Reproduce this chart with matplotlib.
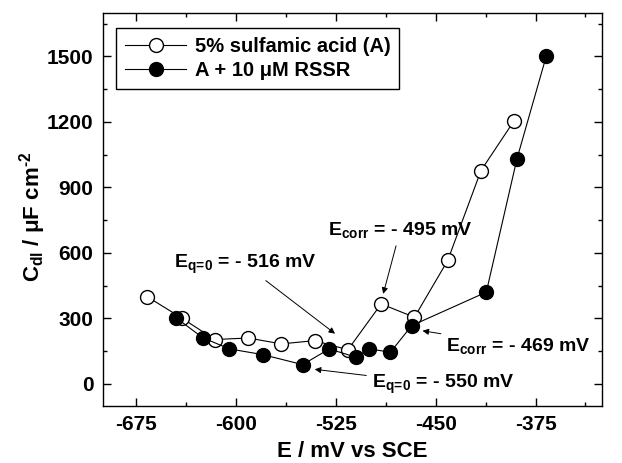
import matplotlib
matplotlib.use('Agg')
import matplotlib.pyplot as plt
from matplotlib.ticker import MultipleLocator

plt.rcParams['font.family'] = 'Liberation Sans'
plt.rcParams['font.weight'] = 'bold'
plt.rcParams['axes.unicode_minus'] = False
plt.rcParams['mathtext.fontset'] = 'custom'
plt.rcParams['mathtext.rm'] = 'Liberation Sans:bold'
plt.rcParams['mathtext.it'] = 'Liberation Sans:bold'
plt.rcParams['mathtext.bf'] = 'Liberation Sans:bold'

# 5% sulfamic acid (blank)
E_blank = [-667, -641, -616, -591, -566, -541, -516, -491, -466, -441, -416, -391]
C_blank = [400, 302, 203, 210, 183, 198, 156, 366, 305, 565, 977, 1206]

# blank + 10 uM RSSR
E_inh = [-645, -625, -605, -580, -550, -530, -510, -500, -484, -468, -412, -389, -367]
C_inh = [302, 211, 160, 134, 88, 160, 122, 160, 145, 267, 420, 1030, 1500]

fig = plt.figure(figsize=(6.22, 4.63), dpi=100)
ax = fig.add_axes([0.1656, 0.1238, 0.8024, 0.8488])

ax.plot(E_blank, C_blank, '-o', color='black', lw=0.8, ms=10,
        mfc='white', mec='black', mew=1.0, label='5% sulfamic acid (A)')
ax.plot(E_inh, C_inh, '-o', color='black', lw=0.8, ms=10,
        mfc='black', mec='black', mew=1.0, label='A + 10 \u03bcM RSSR')

ax.set_xlim(-700, -325)
ax.set_ylim(-100, 1700)
ax.xaxis.set_major_locator(MultipleLocator(75))
ax.xaxis.set_minor_locator(MultipleLocator(37.5))
ax.yaxis.set_major_locator(MultipleLocator(300))
ax.yaxis.set_minor_locator(MultipleLocator(150))
ax.tick_params(which='both', direction='in', top=True, right=True, width=1)
ax.tick_params(which='major', length=6, labelsize=15, pad=7)
ax.tick_params(which='minor', length=3)
for s in ax.spines.values():
    s.set_linewidth(1.0)

ax.set_xlabel('E / mV vs SCE', fontsize=16, fontweight='bold', labelpad=5)
ax.set_ylabel(r'C$_{\mathregular{dl}}$ / $\mathregular{\mu}$F cm$^{\text{-}\mathregular{2}}$',
              fontsize=16, fontweight='bold', labelpad=-1, y=0.48)

leg = ax.legend(loc='upper left', bbox_to_anchor=(0.026, 0.962), borderaxespad=0,
                fancybox=False, edgecolor='black', framealpha=1, fontsize=14.5,
                handlelength=3.05, handletextpad=0.4, borderpad=0.45, labelspacing=0.25)
leg.get_frame().set_linewidth(1.0)

arrow = dict(arrowstyle='-|>', color='black', lw=0.7, mutation_scale=9)
ax.annotate(r'E$_{\mathregular{q\!=\!0}}$ = - 516 mV', xy=(-524, 222), xytext=(-647, 530),
            fontsize=14, arrowprops=arrow)
ax.annotate(r'E$_{\mathregular{corr}}$ = - 495 mV', xy=(-490, 400), xytext=(-531, 680),
            fontsize=14, arrowprops=arrow)
ax.annotate(r'E$_{\mathregular{corr}}$ = - 469 mV', xy=(-462, 245), xytext=(-442, 150),
            fontsize=14, arrowprops=arrow)
ax.annotate(r'E$_{\mathregular{q\!=\!0}}$ = - 550 mV', xy=(-543, 68), xytext=(-498, -20),
            fontsize=14, arrowprops=arrow)

fig.savefig('out.png', dpi=100)
